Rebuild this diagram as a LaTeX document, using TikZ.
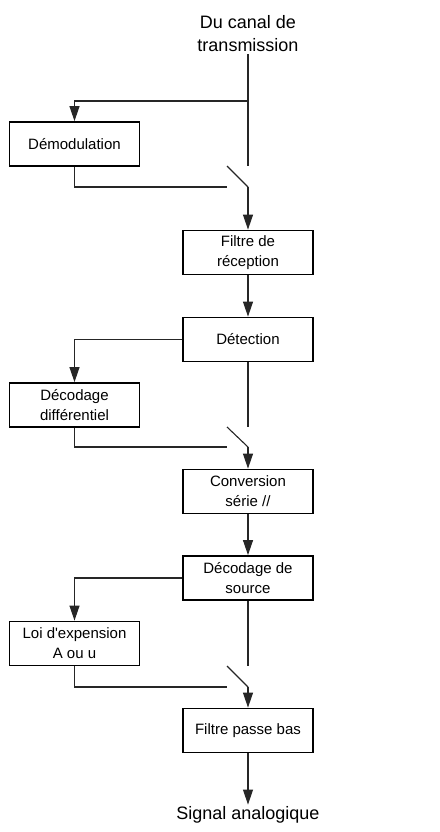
\documentclass[tikz,border=0pt]{standalone}
\usepackage{fontspec}
\newfontfamily\droit{Liberation Sans}
\usetikzlibrary{arrows.meta}
\tikzset{>={Triangle[length=15pt,width=10pt]}}
\tikzset{bloc/.style={draw=black,line width=1.8pt,minimum width=130pt,minimum height=44pt,
    inner sep=2pt,align=center,font=\droit\fontsize{15}{20}\selectfont},
  titre/.style={align=center,font=\droit\fontsize{18}{23}\selectfont,inner sep=1.5pt},
  fil/.style={line width=1.1pt,draw=black!85}}

\begin{document}
\begin{tikzpicture}[x=1pt,y=-1pt,fil]
            \useasboundingbox (0,0) rectangle (439,832);
            \node[titre] (canal) at (248,34){Du canal de\\transmission};
            \node[bloc] (demod) at (74.5,144){Démodulation};
            \node[bloc] (filtre) at (248,252.5){Filtre de\\réception};
            \node[bloc] (detect) at (248,339.5){Détection};
            \node[bloc] (diff) at (74.5,405){Décodage\\différentiel};
            \node[bloc] (conv) at (248,491.5){Conversion\\série //};
            \node[bloc] (source) at (248,578){Décodage de\\source};
            \node[bloc] (loi) at (74.5,643.5){Loi d'expension\\A ou u};
            \node[bloc] (passe) at (248,730.5){Filtre passe bas};
            \node[titre] (signal) at (248,815){Signal analogique};
            % interrupteurs
            \coordinate (b1) at (248,101);
            \coordinate (s1a) at (248,166);
            \coordinate (s1p) at (248,187);
            \coordinate (s1b) at (227,166);
            \coordinate (s1c) at (227,187);
            \coordinate (s2a) at (248,427);
            \coordinate (s2p) at (248,447);
            \coordinate (s2b) at (227,427);
            \coordinate (s2c) at (227,447);
            \coordinate (s3a) at (248,666);
            \coordinate (s3p) at (248,687);
            \coordinate (s3b) at (227,666);
            \coordinate (s3c) at (227,687);
            \draw (canal) -- (s1a);
            \draw[->] (b1) -| (demod);
            \draw (demod) |- (s1c);
            \draw (s1p) -- (s1b);
            \draw[->] (s1p) -- (filtre);
            \draw[->] (filtre) -- (detect);
            \draw[->] (detect) -| (diff);
            \draw (detect) -- (s2a);
            \draw (diff) |- (s2c);
            \draw (s2p) -- (s2b);
            \draw[->] (s2p) -- (conv);
            \draw[->] (conv) -- (source);
            \draw[->] (source) -| (loi);
            \draw (source) -- (s3a);
            \draw (loi) |- (s3c);
            \draw (s3p) -- (s3b);
            \draw[->] (s3p) -- (passe);
            \draw[->] (passe) -- (signal);
        \end{tikzpicture}
\end{document}
